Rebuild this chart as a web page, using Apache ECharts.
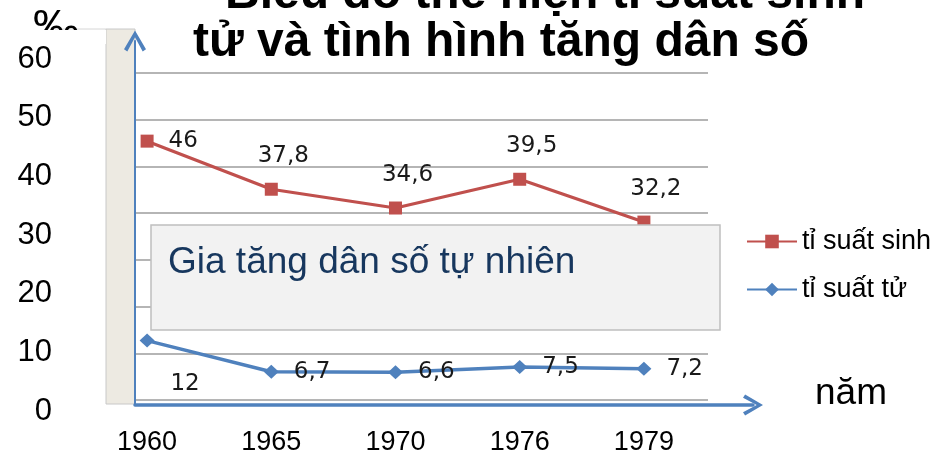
<!DOCTYPE html>
<html>
<head>
<meta charset="utf-8">
<script src="https://cdn.jsdelivr.net/npm/echarts@6/dist/echarts.min.js"></script>
<style>
  html, body { margin: 0; padding: 0; background: #fff; }
  #chart { width: 935px; height: 453px; }
</style>
</head>
<body>
<div id="chart"></div>
<script>
// so lieu doc tu hinh
var years = ['1960', '1965', '1970', '1976', '1979'];
var birthRate = [46, 37.8, 34.6, 39.5, 32.2];
var deathRate = [12, 6.7, 6.6, 7.5, 7.2];
var seriesNames = ['tỉ suất sinh', 'tỉ suất tử'];

var FONT = 'Liberation Sans';
var RED = '#C0504D';
var BLUE = '#4F81BD';
// mui ten dang chu V (huong len, echarts tu xoay theo truc)
var chevron = 'path://M0,17 L10,0 L20,17 L17,19 L10,6 L3,19 Z';

function comma(p) {
	return String(p.value).replace('.', ',');
}

var chart = echarts.init(document.getElementById('chart'));

var birthData = birthRate.map(function(v, i) {
	if (i == 0) {
		return { value: v, label: { position: 'right', distance: 15, offset: [0, 0] } };
	}
	return v;
});
var deathData = deathRate.map(function(v, i) {
	if (i == 0) {
		return { value: v, label: { position: 'bottom', distance: 5, offset: [38, 20] } };
	}
	return v;
});

var option = {
	animation: false,
	title: [
		{
			text: 'Biểu đồ thể hiện tỉ suất sinh',
			left: 225, top: -29, padding: 0,
			textStyle: { fontSize: 48, fontWeight: 'bold', fontFamily: FONT, color: '#000' }
		},
		{
			text: 'tử và tình hình tăng dân số',
			left: 193, top: 19, padding: 0,
			textStyle: { fontSize: 48, fontWeight: 'bold', fontFamily: FONT, color: '#000' }
		}
	],
	legend: {
		orient: 'vertical',
		left: 746, top: 228, padding: 0,
		itemWidth: 50, itemHeight: 17, itemGap: 21,
		textStyle: { fontSize: 27, fontFamily: FONT, color: '#000' },
		data: seriesNames
	},
	grid: [
		// du lieu
		{ left: 85, right: 229, top: 59, bottom: 42, outerBoundsMode: 'none' },
		// luoi ngang
		{ left: 135, right: 227, top: 73, bottom: 53, outerBoundsMode: 'none' },
		// truc mui ten
		{ left: 135, right: 182, top: 41, bottom: 48, outerBoundsMode: 'none' }
	],
	xAxis: [
		{
			gridIndex: 0, type: 'category', data: years, boundaryGap: true,
			axisLine: { show: false }, axisTick: { show: false },
			axisLabel: { fontSize: 27, fontFamily: FONT, color: '#000', margin: 18 }
		},
		{ gridIndex: 1, type: 'value', show: false },
		{
			gridIndex: 2, type: 'value', z: 6,
			axisLine: { show: true, symbol: ['none', chevron], symbolSize: [24, 20],
				lineStyle: { color: BLUE, width: 3.5 } },
			axisTick: { show: false }, axisLabel: { show: false }, splitLine: { show: false }
		}
	],
	yAxis: [
		{
			gridIndex: 0, type: 'value', min: 0, max: 60, interval: 10,
			axisLine: { show: false }, axisTick: { show: false }, splitLine: { show: false },
			axisLabel: { fontSize: 31, fontFamily: FONT, color: '#000', margin: 33 }
		},
		{
			gridIndex: 1, type: 'value', min: 0, max: 7, interval: 1,
			axisLine: { show: false }, axisTick: { show: false }, axisLabel: { show: false },
			splitLine: { lineStyle: { color: '#9D9D9D', width: 1.6 } }
		},
		{
			gridIndex: 2, type: 'value', z: 6,
			axisLine: { show: true, symbol: ['none', chevron], symbolSize: [22, 22],
				lineStyle: { color: BLUE, width: 2 } },
			axisTick: { show: false }, axisLabel: { show: false }, splitLine: { show: false }
		}
	],
	series: [
		{
			name: seriesNames[0], type: 'line',
			data: birthData,
			symbol: 'rect', symbolSize: 13,
			lineStyle: { color: RED, width: 3.2 },
			itemStyle: { color: RED },
			label: {
				show: true, position: 'top', distance: 15, offset: [12, 0],
				fontSize: 23, fontFamily: 'DejaVu Sans', color: '#1a1a1a',
				formatter: comma
			}
		},
		{
			name: seriesNames[1], type: 'line',
			data: deathData,
			symbol: 'diamond', symbolSize: [15, 14],
			lineStyle: { color: BLUE, width: 3.5 },
			itemStyle: { color: BLUE },
			label: {
				show: true, position: 'right', distance: 15,
				fontSize: 23, fontFamily: 'DejaVu Sans', color: '#1a1a1a',
				formatter: comma
			}
		}
	],
	graphic: {
		elements: [
			// dai mau be ben trai
			{ type: 'rect', z: 1, shape: { x: 106, y: 29, width: 29, height: 375 },
				style: { fill: '#EDEAE2', stroke: '#C8C8C8', lineWidth: 1 } },
			{ type: 'line', z: 1, shape: { x1: 55, y1: 29, x2: 106, y2: 29 },
				style: { stroke: '#D6D6D6', lineWidth: 1 } },
			// ky hieu phan nghin (bi cat)
			{ type: 'text', z: 2, x: 33, y: 6,
				style: { text: '‰', font: '46px "Liberation Sans"', fill: '#000', verticalAlign: 'top' } },
			{ type: 'rect', z: 3, shape: { x: 20, y: 30, width: 86, height: 14 },
				style: { fill: '#fff' } },
			// o chu
			{ type: 'rect', z: 10, shape: { x: 151, y: 225, width: 569, height: 105 },
				style: { fill: '#F2F2F2', stroke: '#BFBFBF', lineWidth: 1.5 } },
			{ type: 'text', z: 11, x: 168, y: 263,
				style: { text: 'Gia tăng dân số tự nhiên', font: '37px "Liberation Sans"',
					fill: '#17375E', verticalAlign: 'middle' } },
			{ type: 'text', z: 11, x: 815, y: 394,
				style: { text: 'năm', font: '37px "Liberation Sans"', fill: '#000', verticalAlign: 'middle' } }
		]
	}
};

chart.setOption(option);
</script>
</body>
</html>
